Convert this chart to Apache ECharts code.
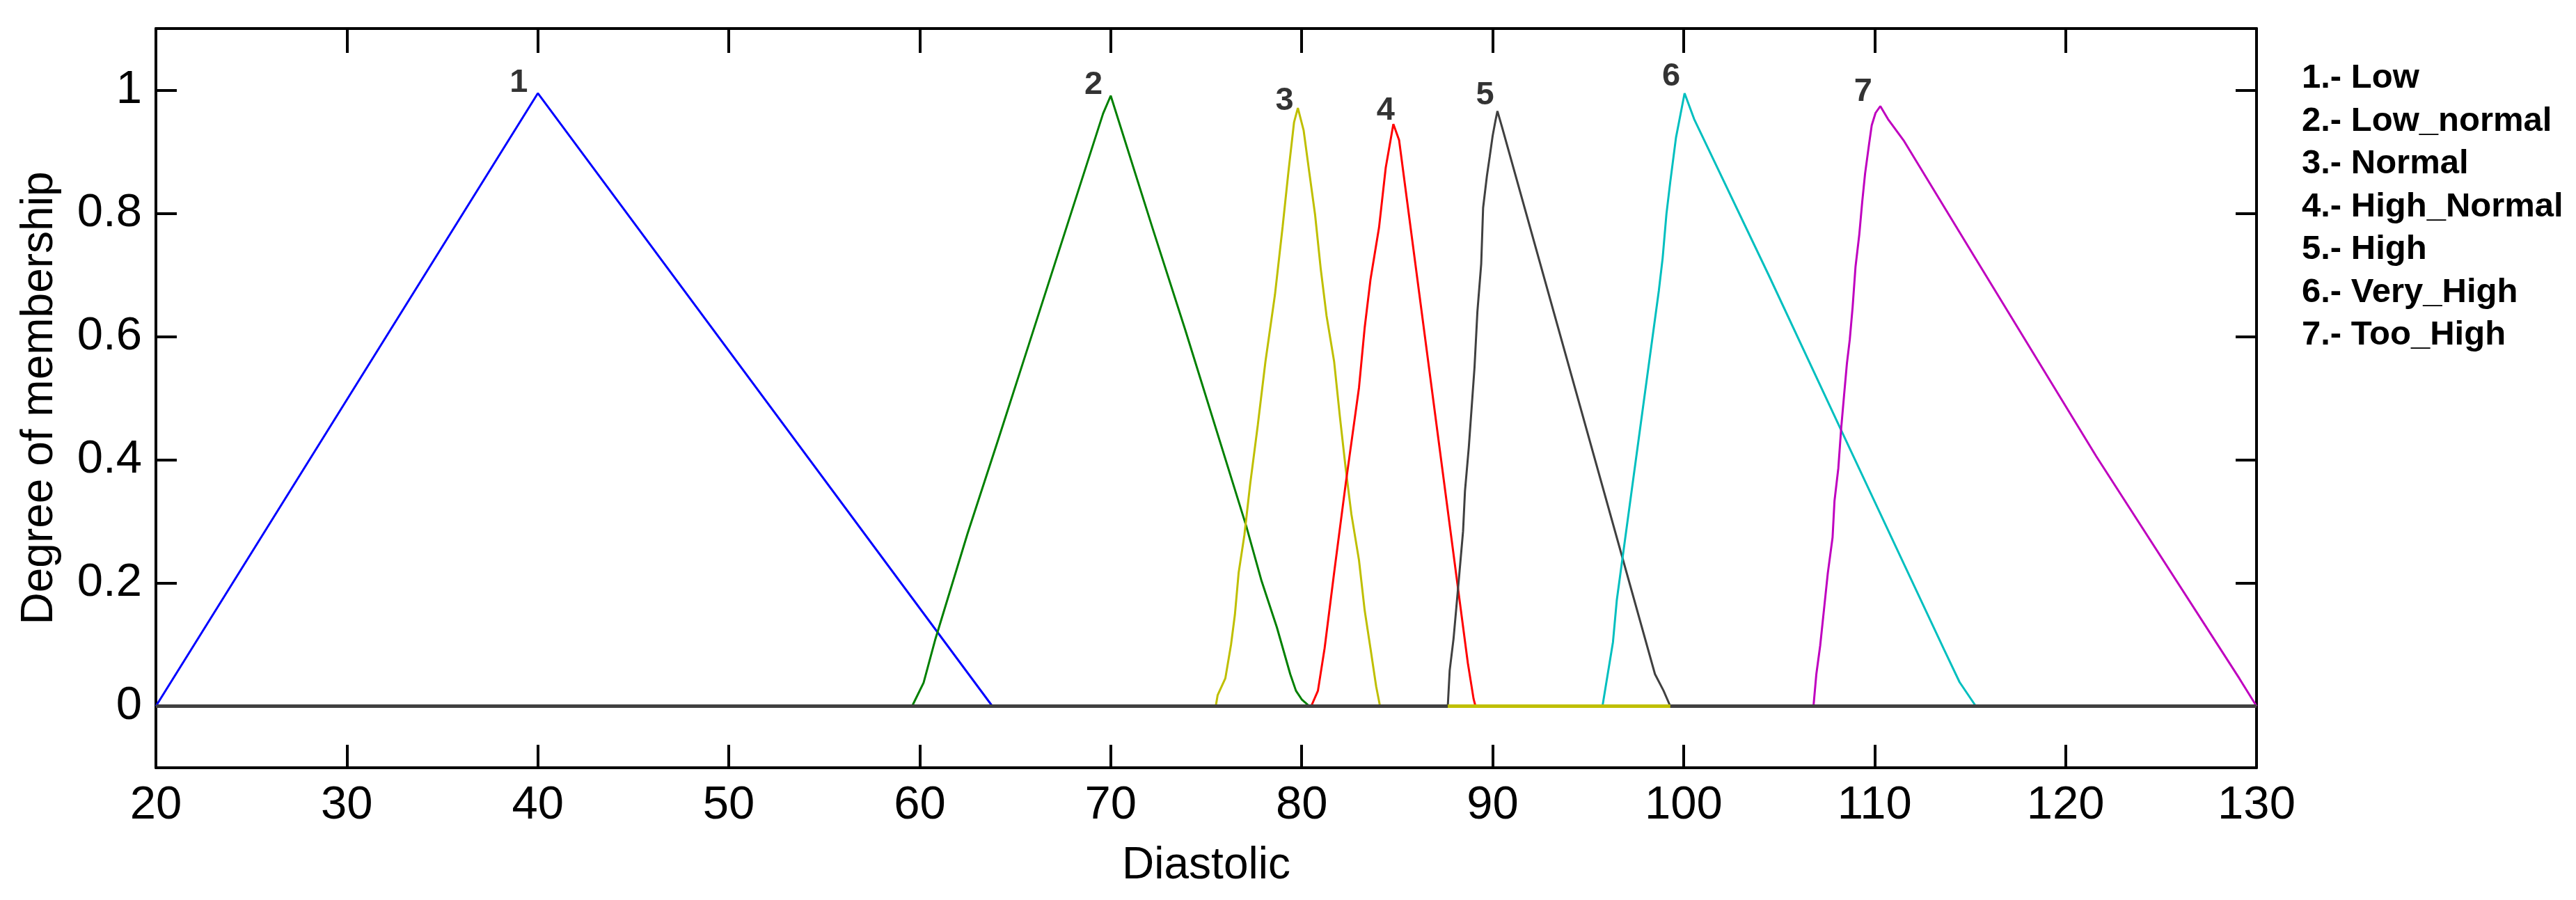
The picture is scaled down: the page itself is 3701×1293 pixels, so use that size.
<!DOCTYPE html>
<html>
<head>
    <meta charset="utf-8">
    <title>Diastolic membership functions</title>
    <script src="https://cdn.jsdelivr.net/npm/echarts@6.0.0/dist/echarts.min.js"></script>
    <style>
        html, body { margin: 0; padding: 0; background: #fff; }
        #main { width: 3701px; height: 1293px; }
    </style>
</head>
<body>
<div id="main"></div>

<script type="text/javascript">
    // membership functions (x = Diastolic, y = degree)
    var lowX = [20, 40, 63.8];
    var lowY = [0, 0.995, 0];

    var lowNormalX = [59.6, 60.2, 60.8, 62.5, 64.1, 65.7, 69.6, 70.0, 72.2, 73.9, 77.1, 77.9, 78.7, 79.4, 79.7, 80.0, 80.4];
    var lowNormalY = [0, 0.038, 0.107, 0.28, 0.432, 0.586, 0.962, 0.991, 0.775, 0.611, 0.292, 0.203, 0.128, 0.052, 0.025, 0.011, 0];

    var normalX = [75.5, 75.6, 76.0, 76.3, 76.5, 76.7, 77.0, 77.3, 77.7, 78.1, 78.6, 79.0, 79.3, 79.6, 79.8, 80.1, 80.4, 80.7, 81.0, 81.3, 81.7, 82.0, 82.3, 82.6, 83.0, 83.3, 83.6, 83.9, 84.1];
    var normalY = [0, 0.018, 0.045, 0.1, 0.148, 0.217, 0.278, 0.36, 0.456, 0.559, 0.668, 0.778, 0.866, 0.948, 0.971, 0.935, 0.866, 0.798, 0.709, 0.634, 0.559, 0.47, 0.387, 0.312, 0.237, 0.155, 0.094, 0.032, 0];

    var highNormalX = [80.5, 80.85, 81.2, 81.7, 82.3, 83.0, 83.3, 83.6, 84.05, 84.4, 84.8, 85.1, 88.7, 89.0, 89.1];
    var highNormalY = [0, 0.025, 0.094, 0.217, 0.36, 0.517, 0.615, 0.692, 0.777, 0.874, 0.945, 0.919, 0.07, 0.012, 0];

    var highX = [87.65, 87.75, 87.95, 88.1, 88.25, 88.45, 88.55, 88.75, 88.9, 89.05, 89.2, 89.4, 89.5, 89.7, 89.85, 90.0, 90.15, 90.25, 90.5, 98.5, 98.95, 99.3];
    var highY = [0, 0.058, 0.109, 0.161, 0.213, 0.284, 0.349, 0.42, 0.485, 0.55, 0.64, 0.718, 0.809, 0.861, 0.893, 0.926, 0.951, 0.966, 0.939, 0.052, 0.025, 0];

    var veryHighX = [95.75, 96.3, 96.5, 98.7, 98.9, 99.1, 99.3, 99.6, 100.05, 100.55, 104.45, 108.4, 113.65, 114.45, 115.3];
    var veryHighY = [0, 0.104, 0.172, 0.674, 0.727, 0.799, 0.851, 0.923, 0.995, 0.953, 0.7, 0.438, 0.091, 0.039, 0];

    var tooHighX = [106.8, 106.95, 107.15, 107.35, 107.55, 107.8, 107.9, 108.1, 108.25, 108.4, 108.55, 108.7, 108.85, 109.0, 109.2, 109.35, 109.5, 109.7, 109.85, 110.05, 110.3, 110.7, 111.55, 115.3, 121.6, 129.1, 130];
    var tooHighY = [0, 0.052, 0.098, 0.157, 0.216, 0.274, 0.333, 0.386, 0.451, 0.504, 0.556, 0.595, 0.648, 0.713, 0.766, 0.818, 0.864, 0.91, 0.943, 0.963, 0.974, 0.953, 0.917, 0.726, 0.406, 0.045, 0];

    // zero line: dark grey everywhere, yellow where "Normal" lies on top
    var baseX = [20, 130];
    var baseY = [0, 0];
    var zeroYellowX = [87.65, 99.3];
    var zeroYellowY = [0, 0];

    // numbers written next to each peak
    var peakLabelText = ['1', '2', '3', '4', '5', '6', '7'];
    var peakLabelX = [39.0, 69.1, 79.1, 84.4, 89.6, 99.35, 109.4];
    var peakLabelY = [1.012, 1.008, 0.982, 0.967, 0.992, 1.022, 0.997];

    var mfNames = ['1.- Low', '2.- Low_normal', '3.- Normal', '4.- High_Normal', '5.- High', '6.- Very_High', '7.- Too_High'];
    var mfColors = ['#0000ff', '#008000', '#bfbf00', '#ff0000', '#404040', '#00bfbf', '#bf00bf'];
    var mfX = [lowX, lowNormalX, normalX, highNormalX, highX, veryHighX, tooHighX];
    var mfY = [lowY, lowNormalY, normalY, highNormalY, highY, veryHighY, tooHighY];

    var yTicks = [0, 0.2, 0.4, 0.6, 0.8, 1];

    var FONT = 'Liberation Sans, Arial, Helvetica, sans-serif';

    function pairs(xs, ys) {
        var out = [];
        for (var i = 0; i < xs.length; i++) {
            out.push([xs[i], ys[i]]);
        }
        return out;
    }

    var series = [];
    for (var k = 0; k < mfNames.length; k++) {
        series.push({
            name: mfNames[k],
            type: 'line',
            data: pairs(mfX[k], mfY[k]),
            showSymbol: false,
            symbol: 'none',
            color: mfColors[k],
            lineStyle: {color: mfColors[k], width: 3},
            z: 2
        });
    }
    series.push({
        type: 'line',
        data: pairs(baseX, baseY),
        symbol: 'none',
        lineStyle: {color: '#404040', width: 5},
        z: 3
    });
    series.push({
        type: 'line',
        data: pairs(zeroYellowX, zeroYellowY),
        symbol: 'none',
        lineStyle: {color: '#bfbf00', width: 5},
        z: 4
    });
    var labelData = [];
    for (var j = 0; j < peakLabelText.length; j++) {
        labelData.push({value: [peakLabelX[j], peakLabelY[j]], name: peakLabelText[j]});
    }
    series.push({
        type: 'scatter',
        data: labelData,
        symbol: 'rect',
        symbolSize: 1,
        itemStyle: {color: 'rgba(0,0,0,0)'},
        label: {
            show: true,
            position: 'inside',
            formatter: function (p) { return p.name; },
            fontFamily: FONT,
            fontWeight: 'bold',
            fontSize: 47,
            color: '#000'
        },
        z: 5
    });

    var axisLineStyle = {color: '#000', width: 4};

    var option = {
        animation: false,
        backgroundColor: '#fff',
        grid: {left: 224, top: 41, width: 3018, height: 1062, outerBoundsMode: 'none'},
        legend: {
            data: mfNames,
            orient: 'vertical',
            left: 3302,
            top: 88,
            padding: 0,
            icon: 'none',
            itemWidth: 0,
            itemHeight: 0,
            itemGap: 12.5,
            selectedMode: false,
            textStyle: {fontFamily: FONT, fontWeight: 'bold', fontSize: 49, lineHeight: 49, color: '#000'}
        },
        xAxis: [{
            type: 'value',
            position: 'bottom',
            min: 20,
            max: 130,
            interval: 10,
            axisLine: {show: true, onZero: false, lineStyle: axisLineStyle},
            axisTick: {show: true, inside: true, length: 33, lineStyle: axisLineStyle},
            axisLabel: {fontFamily: FONT, fontSize: 67, color: '#000', margin: 21},
            splitLine: {show: false},
            name: 'Diastolic',
            nameLocation: 'middle',
            nameGap: 109,
            nameTextStyle: {fontFamily: FONT, fontSize: 64, color: '#000'}
        }, {
            type: 'value',
            position: 'top',
            min: 20,
            max: 130,
            interval: 10,
            axisLine: {show: true, onZero: false, lineStyle: axisLineStyle},
            axisTick: {show: true, inside: true, length: 35, lineStyle: axisLineStyle},
            axisLabel: {show: false},
            splitLine: {show: false}
        }],
        yAxis: [{
            type: 'value',
            position: 'left',
            min: -0.1,
            max: 1.1,
            axisLine: {show: true, onZero: false, lineStyle: axisLineStyle},
            axisTick: {show: true, inside: true, length: 30, lineStyle: axisLineStyle, customValues: yTicks},
            axisLabel: {
                fontFamily: FONT, fontSize: 67, color: '#000', margin: 20,
                customValues: yTicks,
                formatter: function (v) { return String(+v.toFixed(1)); }
            },
            splitLine: {show: false},
            name: 'Degree of membership',
            nameLocation: 'middle',
            nameRotate: 90,
            nameGap: 135,
            nameTextStyle: {fontFamily: FONT, fontSize: 64, color: '#000'}
        }, {
            type: 'value',
            position: 'right',
            min: -0.1,
            max: 1.1,
            axisLine: {show: true, onZero: false, lineStyle: axisLineStyle},
            axisTick: {show: true, inside: true, length: 30, lineStyle: axisLineStyle, customValues: yTicks},
            axisLabel: {show: false, customValues: yTicks},
            splitLine: {show: false}
        }],
        series: series
    };

    var myChart = echarts.init(document.getElementById('main'));
    myChart.setOption(option);
</script>
</body>
</html>
